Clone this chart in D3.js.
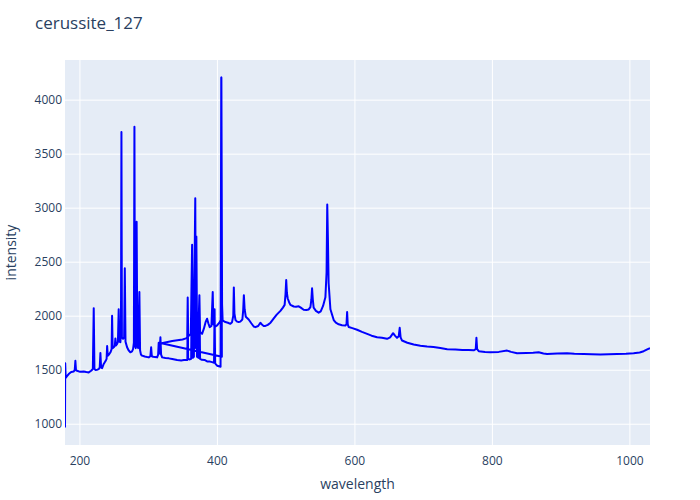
<!DOCTYPE html>
<html><head><meta charset="utf-8">
<script src="https://cdn.jsdelivr.net/npm/d3@7"></script>
<style>body{margin:0;background:#fff}svg{display:block}</style>
</head><body><svg id="chart" width="700" height="500"></svg>
<script>
// Channel 1 (lower wavelength detector)
const channel1Wavelength = [179.0,179.3,180.0,182.5,184.4,188,191.7,193.2,194.1,195.0,196.6,201,206.2,210,213.5,217,219.5,220.8,221.8,223.2,226,228.1,229.5,230.5,231.5,233,235.3,238,239.5,240.3,241.2,243,245.1,246.8,247.5,248.3,249.9,251.5,252.3,253.2,254.8,256.0,257.1,258.2,259.6,260.4,261.1,261.8,263.5,265.0,266.0,267.0,269.3,271.5,274.1,276.5,278.0,279.2,280.0,280.8,282.0,283.2,284.2,285.5,287.2,288.2,289.5,291.1,295,300.8,303.2,304.3,305.3,307.2,310,313,314.5,315.3,316.5,317.8,318.8,320.3,325,330,335,342.1,348,352,357.0,357.5,358.1,360,362.5,363.9,365,366.5,368.5,369.3,370.1,371,373,374.5,375.5,378,382,385.7,390,393,395.8,396.6,397.4,398,400.3,403,405.3,406.3,407.2];
const channel1Intensity = [965,1560,1425,1445,1460,1478,1484,1500,1583,1495,1490,1480,1484,1478,1475,1490,1506,2070,1510,1497,1500,1506,1520,1655,1520,1515,1553,1580,1600,1720,1630,1640,1661,1690,2000,1700,1708,1720,1790,1725,1739,1760,2060,1760,1754,1850,3700,1800,1786,1800,2440,1760,1708,1680,1661,1670,1690,1750,3750,1720,1700,2870,1720,1700,2220,1680,1640,1630,1622,1614,1625,1708,1625,1620,1618,1614,1640,1750,1650,1800,1640,1614,1608,1605,1600,1590,1586,1590,1590,2168,1600,1595,1600,2656,1610,1620,3088,1700,2734,1620,1610,2190,1600,1592,1590,1577,1575,1570,1565,2060,1560,1555,1537,1532,1528,4205,1620];
// Channel 2 (upper wavelength detector)
const channel2Wavelength = [319.5,335,350,355,356.8,357.5,358.2,360,362,363.9,365,366.5,368.5,369.3,370.1,371,373,374.5,375.5,378.4,381,383.5,385.7,387.5,389.5,392,393.9,394.8,398,400.3,402,404.1,405.5,406.5,407.5,408.3,410,412.3,416,419.6,422,423.8,424.6,425.5,427,429.3,431.7,434,437,438.2,439.2,440.3,442,446.2,450,453.5,456,460,463.2,465,468,470.5,474,478,482.7,487,492.4,496,498.5,499.8,500.8,501.8,503,505,506.9,511.8,515,519,522,526.2,530,533.5,536,537.4,538.4,539.5,540.7,544,548,551,554.4,557.8,559.5,560.5,561.5,562.5,565.1,569.9,573,577.1,582,586.9,588.5,589.4,590.3,591.7,597,603.9,611,618.5,625,633,640,647.5,652,656.3,659,662,664.5,665.9,667.2,669.3,677,686.2,696,705.7,715,725,735,746.9,757,766.3,773.6,776.5,777.5,778.5,780.9,790,797.8,810,822.1,828,836.6,850,860,868.1,875,880.3,895,909.4,920,933.6,945,957.8,970,982.1,995,1006.2,1015,1020.8,1026,1030];
const channel2Intensity = [1745,1765,1780,1790,1800,2168,1810,1820,1830,2656,1850,1870,3088,1900,2734,1880,1860,2190,1850,1832,1880,1940,1972,1930,1894,1905,2220,1920,1900,1910,1925,1941,1960,4205,2100,1957,1950,1941,1935,1925,1940,2000,2262,2020,1960,1945,1941,1945,1965,2050,2190,2060,1990,1965,1930,1900,1894,1905,1935,1920,1905,1905,1915,1935,1975,2010,2045,2075,2100,2200,2330,2210,2159,2125,2100,2085,2082,2087,2075,2055,2052,2058,2080,2150,2253,2150,2075,2045,2028,2040,2090,2170,2400,3030,2700,2300,2060,1960,1935,1920,1912,1910,1920,2034,1920,1895,1885,1870,1850,1832,1815,1801,1795,1786,1800,1838,1815,1795,1810,1888,1800,1770,1750,1733,1722,1714,1710,1700,1690,1686,1682,1683,1680,1690,1795,1690,1671,1665,1662,1665,1677,1665,1652,1655,1658,1662,1650,1646,1650,1652,1648,1646,1643,1640,1643,1646,1648,1652,1660,1671,1688,1700];
const xTicks = [200,400,600,800,1000];
const yTicks = [1000,1500,2000,2500,3000,3500,4000];
const chartTitle = "cerussite_127";
const xTitle = "wavelength";
const yTitle = "intensity";

const points = channel1Wavelength.map((w,i)=>({x:w,y:channel1Intensity[i]}))
  .concat(channel2Wavelength.map((w,i)=>({x:w,y:channel2Intensity[i]})));

const W=700,H=500, mLeft=65,mRight=650,mTop=60,mBottom=445;
const font='"Open Sans", verdana, arial, sans-serif';
const textColor='#2a3f5f';
const svg=d3.select('#chart');
svg.append('rect').attr('width',W).attr('height',H).attr('fill','#fff');
svg.append('rect').attr('x',mLeft).attr('y',mTop).attr('width',mRight-mLeft).attr('height',mBottom-mTop).attr('fill','#E5ECF6');

const x=d3.scaleLinear().domain(d3.extent(points,d=>d.x)).range([mLeft,mRight]);
const [ymin,ymax]=d3.extent(points,d=>d.y);
const pad=(ymax-ymin)*0.05;
const y=d3.scaleLinear().domain([ymin-pad,ymax+pad]).range([mBottom,mTop]);

// grid
const gxGrid=svg.append('g').attr('transform',`translate(0,${mBottom})`)
  .call(d3.axisBottom(x).tickValues(xTicks).tickSize(-(mBottom-mTop)).tickFormat(''));
gxGrid.select('.domain').remove();
gxGrid.selectAll('line').attr('stroke','#fff').attr('stroke-width',1);
const gyGrid=svg.append('g').attr('transform',`translate(${mLeft},0)`)
  .call(d3.axisLeft(y).tickValues(yTicks).tickSize(-(mRight-mLeft)).tickFormat(''));
gyGrid.select('.domain').remove();
gyGrid.selectAll('line').attr('stroke','#fff').attr('stroke-width',1);

// line
svg.append('clipPath').attr('id','clip').append('rect')
  .attr('x',mLeft).attr('y',mTop).attr('width',mRight-mLeft).attr('height',mBottom-mTop);
svg.append('path').datum(points)
  .attr('clip-path','url(#clip)')
  .attr('fill','none').attr('stroke','#0000ff').attr('stroke-width',2)
  .attr('stroke-linejoin','round')
  .attr('d',d3.line().x(d=>x(d.x)).y(d=>y(d.y)));

// axes labels
const gx=svg.append('g').attr('transform',`translate(0,${mBottom})`)
  .call(d3.axisBottom(x).tickValues(xTicks).tickSize(0).tickPadding(11).tickFormat(d3.format('d')));
gx.select('.domain').remove();
gx.selectAll('text').attr('font-family',font).attr('font-size',12).attr('fill',textColor);
const gy=svg.append('g').attr('transform',`translate(${mLeft},0)`)
  .call(d3.axisLeft(y).tickValues(yTicks).tickSize(0).tickPadding(3).tickFormat(d3.format('d')));
gy.select('.domain').remove();
gy.selectAll('text').attr('font-family',font).attr('font-size',12).attr('fill',textColor);

svg.append('text').attr('x',35).attr('y',29).text(chartTitle)
  .attr('font-family',font).attr('font-size',17).attr('fill',textColor);
svg.append('text').attr('x',(mLeft+mRight)/2).attr('y',489).attr('text-anchor','middle').text(xTitle)
  .attr('font-family',font).attr('font-size',14).attr('fill',textColor);
svg.append('text').attr('transform',`translate(16,${(mTop+mBottom)/2}) rotate(-90)`).attr('text-anchor','middle').text(yTitle)
  .attr('font-family',font).attr('font-size',14).attr('fill',textColor);
</script></body></html>
